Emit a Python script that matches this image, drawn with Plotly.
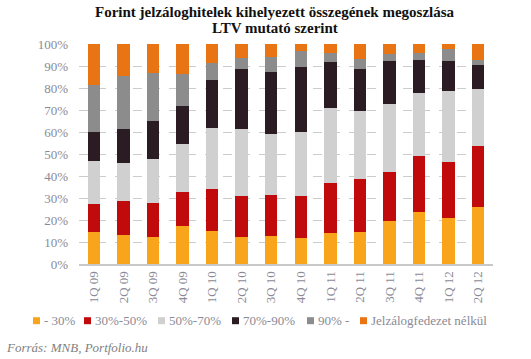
import plotly.graph_objects as go

categories = ["1Q 09", "2Q 09", "3Q 09", "4Q 09", "1Q 10", "2Q 10", "3Q 10",
              "4Q 10", "1Q 11", "2Q 11", "3Q 11", "4Q 11", "1Q 12", "2Q 12"]

ltv_0_30 = [14.7, 13.3, 12.4, 17.4, 15.1, 12.4, 12.9, 12.0, 14.2, 14.7, 19.7, 23.8, 21.0, 26.0]
ltv_30_50 = [12.7, 15.4, 15.4, 15.4, 19.1, 18.6, 18.6, 19.0, 22.7, 24.0, 22.2, 25.4, 25.4, 27.7]
ltv_50_70 = [19.5, 17.3, 20.0, 21.8, 27.7, 30.4, 27.7, 29.1, 34.1, 30.9, 30.9, 28.6, 32.3, 25.9]
ltv_70_90 = [13.2, 15.4, 17.3, 17.3, 21.8, 27.3, 28.1, 29.5, 20.8, 19.1, 19.5, 15.0, 13.6, 10.9]
ltv_90_plus = [21.3, 24.1, 21.9, 14.5, 7.8, 4.9, 7.0, 7.2, 4.3, 4.5, 3.2, 3.3, 5.4, 2.2]
no_collateral = [18.6, 14.5, 13.0, 13.6, 8.5, 6.4, 5.7, 3.2, 3.9, 6.8, 4.5, 3.9, 2.3, 7.3]

series_names = ["- 30%", "30%-50%", "50%-70%", "70%-90%", "90% -", "Jelzálogfedezet nélkül"]
series_values = [ltv_0_30, ltv_30_50, ltv_50_70, ltv_70_90, ltv_90_plus, no_collateral]
colors = ["#F8A51C", "#C00A0B", "#D0D0D0", "#2B1B22", "#8C8C8C", "#E87414"]

title_lines = ["Forint jelzáloghitelek kihelyezett összegének megoszlása", "LTV mutató szerint"]

y_ticks = [0, 10, 20, 30, 40, 50, 60, 70, 80, 90, 100]
y_tick_labels = [f"{v}%" for v in y_ticks]

W, H = 531, 359
L, R, T, B = 79, 38, 44, 95
PW, PH = W - L - R, H - T - B


def px_x(x):
    return (x - L) / PW


def px_y(y):
    return (H - B - y) / PH


fig = go.Figure()
for name, vals, col in zip(series_names, series_values, colors):
    fig.add_trace(go.Bar(x=categories, y=vals, name=name, marker_color=col,
                         marker_line_width=0, showlegend=False))

serif = "Liberation Serif"
grey = "#8A8A96"

fig.update_layout(
    width=W, height=H,
    barmode="stack",
    bargap=0.58,
    plot_bgcolor="white", paper_bgcolor="white",
    margin=dict(l=L, r=R, t=T, b=B),
    font=dict(family=serif, color=grey),
)
fig.update_yaxes(range=[0, 100], tickvals=y_ticks, ticktext=y_tick_labels,
                 showgrid=True, gridcolor="#CCCCCC", griddash="dash", gridwidth=1,
                 zeroline=False, showline=False, ticks="",
                 tickfont=dict(family=serif, size=13, color=grey), ticklabelstandoff=10)
fig.update_xaxes(showline=True, linecolor="#C8C8C8", linewidth=2, ticks="",
                 tickangle=-90, tickfont=dict(family=serif, size=13, color=grey))

# title (two lines)
for line, yc in zip(title_lines, [11.5, 28.0]):
    fig.add_annotation(text=f"<b>{line}</b>", xref="paper", yref="paper", showarrow=False,
                       x=px_x(275), xanchor="center", y=px_y(yc), yanchor="middle",
                       borderpad=0,
                       font=dict(family=serif, size=15, color="#111111"))

# manual legend
leg_sq_x = [33, 84, 158, 232, 307, 360]
leg_y = 320.7
for xs, name, col in zip(leg_sq_x, series_names, colors):
    fig.add_shape(type="rect", xref="paper", yref="paper",
                  x0=px_x(xs), x1=px_x(xs + 7),
                  y0=px_y(leg_y + 3.5), y1=px_y(leg_y - 3.5),
                  fillcolor=col, line_width=0)
    fig.add_annotation(text=name, xref="paper", yref="paper", showarrow=False,
                       x=px_x(xs + 8.5), xanchor="left",
                       y=px_y(leg_y), yanchor="middle",
                       font=dict(family=serif, size=13, color=grey))

fig.add_annotation(text="<i>Forrás: MNB, Portfolio.hu</i>", xref="paper", yref="paper",
                   showarrow=False, x=px_x(4), xanchor="left",
                   y=px_y(347.5), yanchor="middle",
                   font=dict(family=serif, size=13, color="#7F7F7F"))

fig.write_html("out.html", config={"displayModeBar": False},
               post_script="document.body.style.margin='0';document.body.style.overflow='hidden';")
